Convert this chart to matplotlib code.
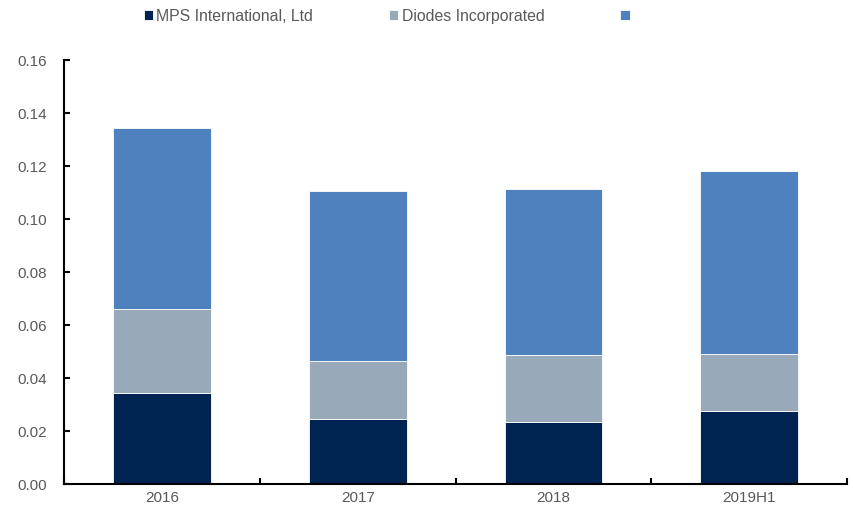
import matplotlib
matplotlib.use("Agg")
import matplotlib.pyplot as plt
import numpy as np

plt.rcParams['font.family'] = ['Liberation Sans', 'DejaVu Sans']

# 数据
categories = ['2016', '2017', '2018', '2019H1']
mps = [0.0343, 0.0245, 0.0234, 0.0275]
diodes = [0.0317, 0.0219, 0.0253, 0.0215]
other = [0.0683, 0.0642, 0.0626, 0.0691]
series_names = ['MPS International, Ltd', 'Diodes Incorporated', '']
colors = ['#002452', '#98A9B9', '#4E81BD']

fig = plt.figure(figsize=(8.54, 5.19), dpi=100)
ax = fig.add_axes([0.075, 0.0674, 0.917, 0.8166])

x = np.arange(len(categories))
bottom = np.zeros(len(categories))
handles = []
for vals, name, c in zip([mps, diodes, other], series_names, colors):
    b = ax.bar(x, vals, width=0.5, bottom=bottom, color=c, edgecolor='white',
               linewidth=0.6, label=name)
    handles.append(b)
    bottom += np.array(vals)

ax.set_xlim(-0.5, len(categories) - 0.5)
ax.set_ylim(0, 0.16)
ax.set_yticks(np.arange(0, 0.161, 0.02))
ax.set_yticklabels([f'{v:.2f}' for v in np.arange(0, 0.161, 0.02)])
ax.set_xticks(x)
ax.set_xticklabels(categories)
ax.set_xticks(np.arange(-0.5, len(categories)), minor=True)

for s in ['top', 'right']:
    ax.spines[s].set_visible(False)
for s in ['left', 'bottom']:
    ax.spines[s].set_linewidth(1.5)
    ax.spines[s].set_color('black')

ax.tick_params(axis='y', direction='in', length=4, width=1.5, labelsize=11,
               labelcolor='#595959', pad=12)
ax.tick_params(axis='x', which='major', length=0, labelsize=11,
               labelcolor='#595959', pad=5)
ax.tick_params(axis='x', which='minor', direction='in', length=4, width=1.5)

leg = fig.legend(handles=handles, labels=series_names, loc='center left',
                 bbox_to_anchor=(0.152, 0.969), ncol=3, frameon=False,
                 fontsize=11.4, handlelength=0.58, handleheight=0.58,
                 handletextpad=0.2, columnspacing=4.8)
for t in leg.get_texts():
    t.set_color('#595959')

plt.savefig('out.png', dpi=100)
plt.close()
